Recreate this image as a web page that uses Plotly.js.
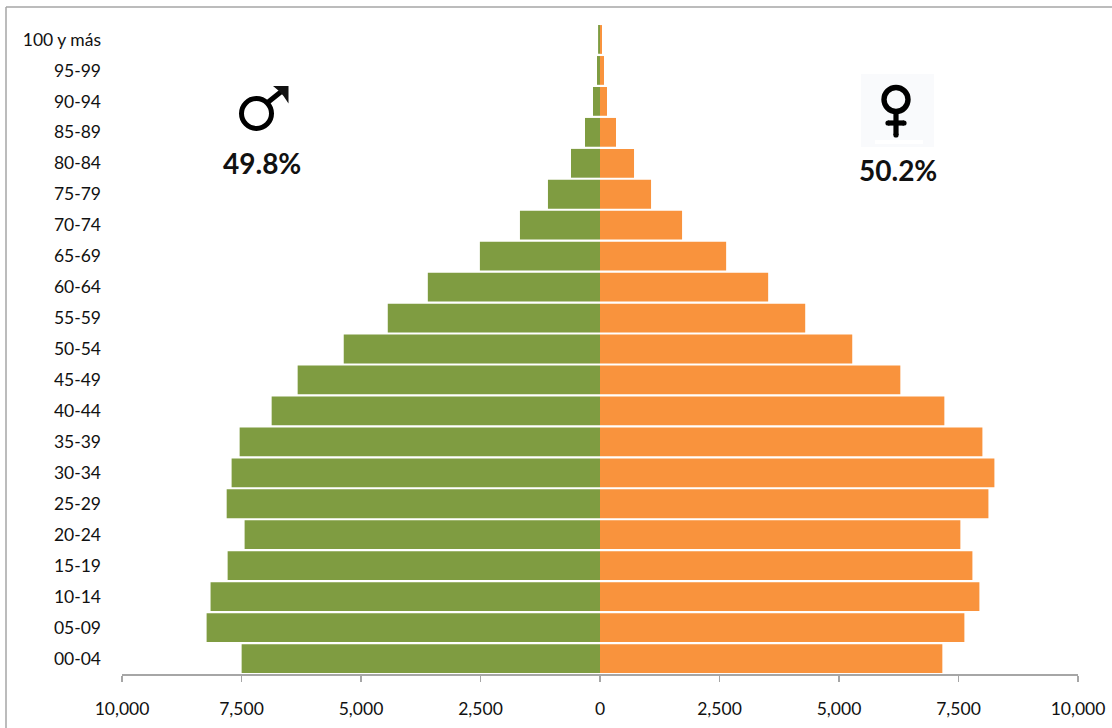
<!DOCTYPE html>
<html lang="es">
<head>
<meta charset="utf-8">
<title>Pirámide de población</title>
<script src="https://cdn.plot.ly/plotly-3.0.1.min.js"></script>
<style>
  html, body { margin: 0; padding: 0; background: #fff; overflow: hidden; }
  #chart { width: 1112px; height: 728px; }
</style>
</head>
<body>
<div id="chart"></div>
<script>
// Age groups, youngest first (bottom of the pyramid)
const ageGroups = ['00-04','05-09','10-14','15-19','20-24','25-29','30-34','35-39','40-44','45-49',
  '50-54','55-59','60-64','65-69','70-74','75-79','80-84','85-89','90-94','95-99','100 y más'];

const males = [7497,8230,8147,7790,7435,7810,7707,7539,6869,6325,
  5361,4440,3602,2513,1675,1089,607,314,147,63,40];
const females = [7162,7623,7937,7791,7539,8126,8251,8000,7204,6283,
  5277,4293,3518,2639,1717,1068,712,335,147,84,42];

const axisTicks = [-10000,-7500,-5000,-2500,0,2500,5000,7500,10000];
const axisTickLabels = ['10,000','7,500','5,000','2,500','0','2,500','5,000','7,500','10,000'];

const malePct = '49.8%';
const femalePct = '50.2%';

const GREEN = '#7f9c41';
const ORANGE = '#f9933d';
const RULE = '#a6a6a6';
const INK = '#111111';
const FONT = 'Lato, "Open Sans", sans-serif';

// Plot area in page pixels
const W = 1112, H = 728;
const M = { l: 122, r: 34, t: 24, b: 54 };
const pw = W - M.l - M.r, ph = H - M.t - M.b;
const px = x => (x - M.l) / pw;
const py = y => (H - M.b - y) / ph;
const P = (x, y) => px(x) + ',' + py(y);

const paperShape = o => Object.assign({ xref: 'paper', yref: 'paper', layer: 'above' }, o);
const ring = (cx, cy, r, w) => paperShape({
  type: 'circle', x0: px(cx - r), x1: px(cx + r), y0: py(cy + r), y1: py(cy - r),
  line: { color: '#000', width: w }, fillcolor: 'rgba(0,0,0,0)'
});
const dot = (cx, cy, r) => paperShape({
  type: 'circle', x0: px(cx - r), x1: px(cx + r), y0: py(cy + r), y1: py(cy - r),
  line: { width: 0 }, fillcolor: '#000'
});
const stroke = (x0, y0, x1, y1, w) => paperShape({
  type: 'line', x0: px(x0), x1: px(x1), y0: py(y0), y1: py(y1),
  line: { color: '#000', width: w }
});

const shapes = [
  // chart frame: top and left edges
  paperShape({ type: 'line', x0: px(6), x1: px(1112), y0: py(7), y1: py(7), line: { color: RULE, width: 1.5 } }),
  paperShape({ type: 'line', x0: px(6), x1: px(6), y0: py(7), y1: py(728), line: { color: RULE, width: 1.5 } }),

  // male symbol
  ring(256.5, 113.5, 15, 5),
  stroke(267, 103, 282, 91, 5),
  paperShape({
    type: 'path', line: { width: 0 }, fillcolor: '#111',
    path: 'M' + P(273, 86) + ' L' + P(288.5, 86) + ' L' + P(288.5, 103.5) + ' L' + P(283.5, 96) + ' L' + P(279, 91) + ' Z'
  }),

  // female symbol on its pale tile
  paperShape({ type: 'rect', x0: px(861), x1: px(934), y0: py(147), y1: py(74), line: { width: 0 }, fillcolor: '#f9fafc', layer: 'below' }),
  paperShape({ type: 'rect', x0: px(875), x1: px(923), y0: py(144), y1: py(140), line: { width: 0 }, fillcolor: '#ffffff', layer: 'below' }),
  ring(896, 99.5, 12, 5.4),
  stroke(896, 112, 896, 135, 5.2),
  stroke(888, 123, 904, 123, 5.2),
  dot(896, 135, 2.6), dot(888, 123, 2.6), dot(904, 123, 2.6)
];

const annotations = [
  { text: '<b>' + malePct + '</b>', x: px(262), y: py(163), xref: 'paper', yref: 'paper', showarrow: false,
    xanchor: 'center', yanchor: 'middle', font: { family: FONT, size: 28, color: INK } },
  { text: '<b>' + femalePct + '</b>', x: px(898), y: py(170), xref: 'paper', yref: 'paper', showarrow: false,
    xanchor: 'center', yanchor: 'middle', font: { family: FONT, size: 28, color: INK } }
];

const traces = [
  { type: 'bar', orientation: 'h', name: 'Hombres', y: ageGroups, x: males.map(v => -v),
    marker: { color: GREEN, line: { width: 0 } }, hoverinfo: 'skip' },
  { type: 'bar', orientation: 'h', name: 'Mujeres', y: ageGroups, x: females,
    marker: { color: ORANGE, line: { width: 0 } }, hoverinfo: 'skip' }
];

const layout = {
  width: W, height: H,
  margin: { l: M.l, r: M.r, t: M.t, b: M.b, pad: 0 },
  paper_bgcolor: '#fff', plot_bgcolor: '#fff',
  barmode: 'relative', bargap: 0.07, showlegend: false,
  font: { family: FONT, size: 17.5, color: INK },
  xaxis: {
    range: [-10000, 10000], tickmode: 'array', tickvals: axisTicks, ticktext: axisTickLabels,
    showgrid: false, zeroline: false, showline: true, linecolor: RULE, linewidth: 1.5,
    ticks: 'outside', ticklen: 6, tickwidth: 1.5, tickcolor: RULE,
    ticklabelstandoff: 12, tickfont: { family: FONT, size: 17.5, color: INK }
  },
  yaxis: {
    type: 'category', categoryorder: 'array', categoryarray: ageGroups,
    showgrid: false, zeroline: false, showline: false, ticks: '',
    ticklabelstandoff: 20, tickfont: { family: FONT, size: 17.5, color: INK }
  },
  shapes, annotations
};

Plotly.newPlot('chart', traces, layout, { displayModeBar: false, staticPlot: true });
</script>
</body>
</html>
